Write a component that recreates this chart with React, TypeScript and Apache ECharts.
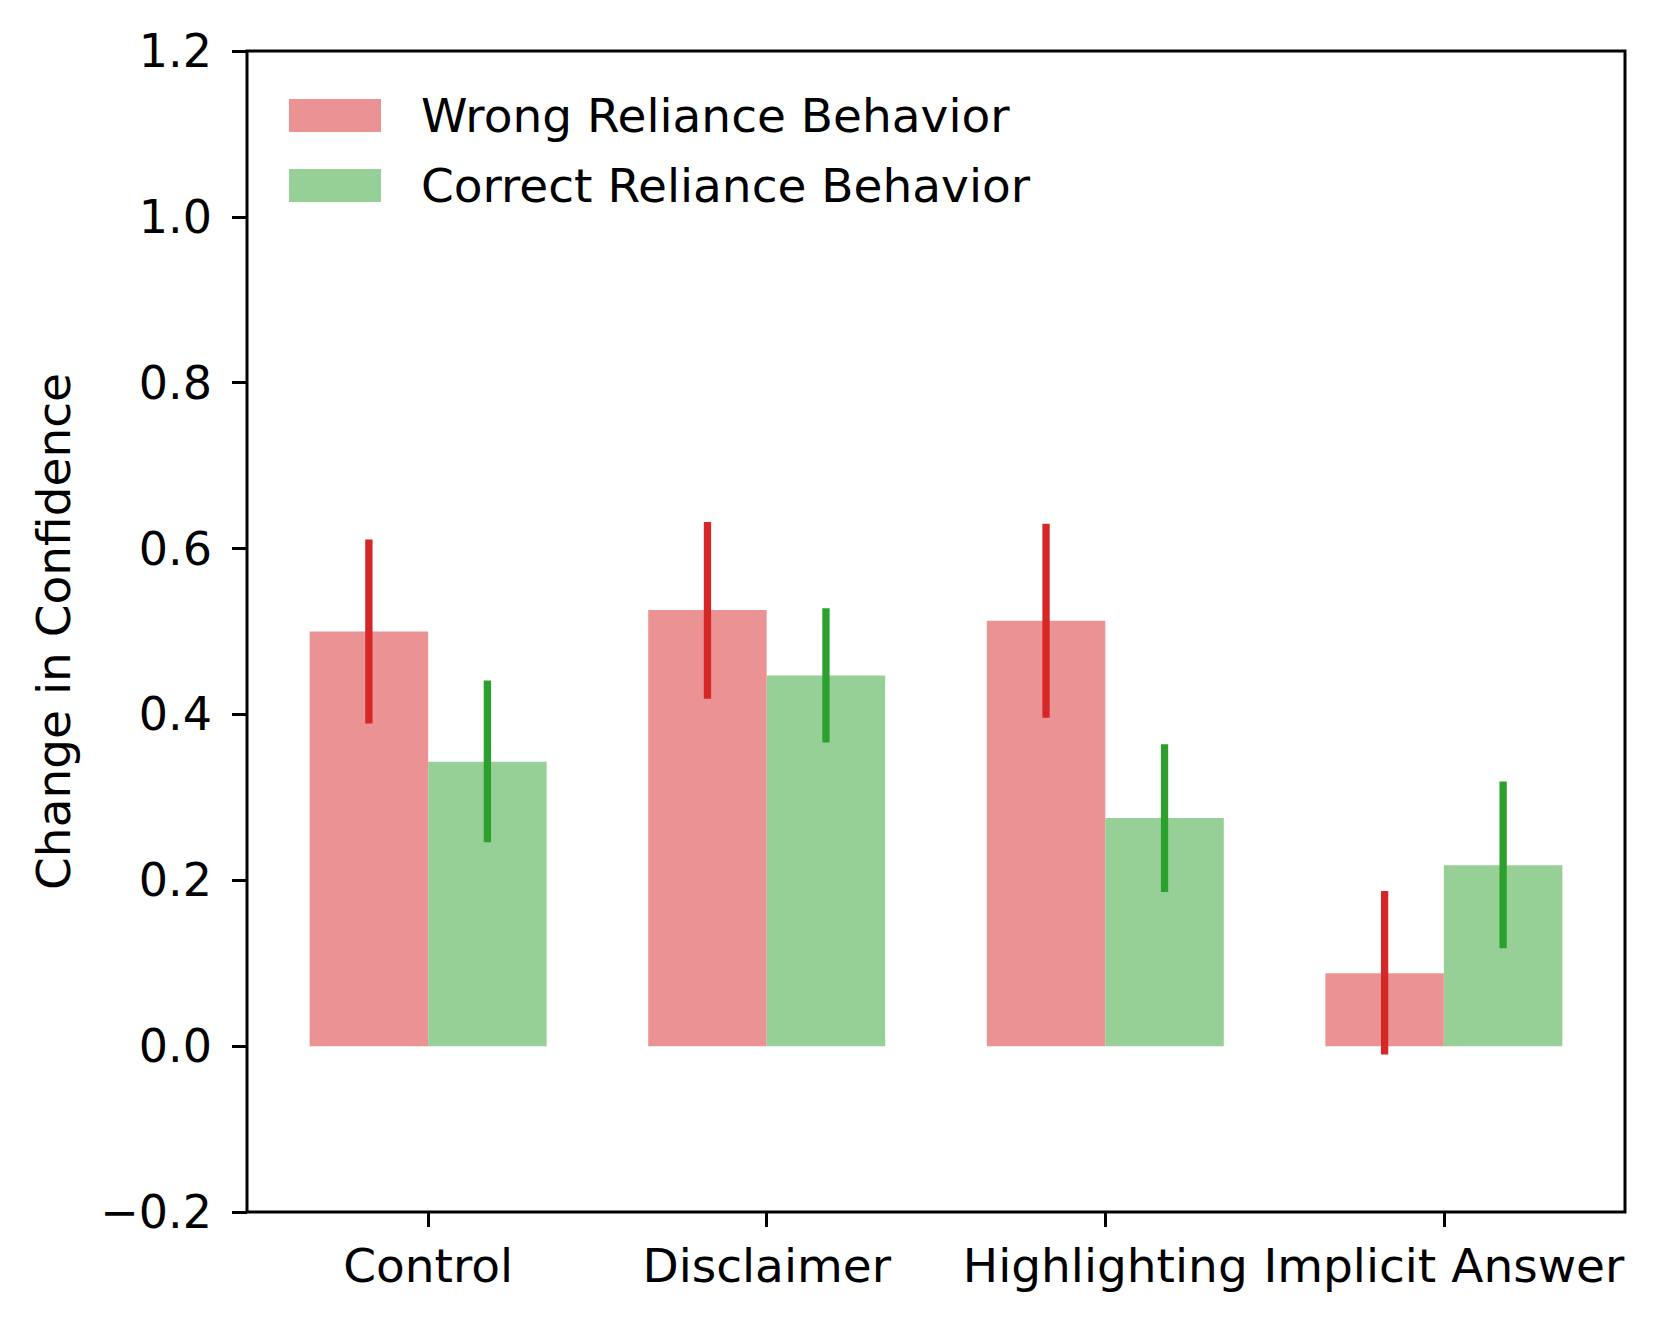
import React, { useEffect, useRef } from "react";
import * as echarts from "echarts";

const categories = ["Control", "Disclaimer", "Highlighting", "Implicit Answer"];
const wrongValues = [0.5, 0.526, 0.513, 0.088];
const wrongLow = [0.389, 0.419, 0.396, -0.01];
const wrongHigh = [0.611, 0.632, 0.63, 0.187];
const correctValues = [0.343, 0.447, 0.275, 0.218];
const correctLow = [0.246, 0.366, 0.186, 0.118];
const correctHigh = [0.441, 0.528, 0.364, 0.319];
const seriesNames = ["Wrong Reliance Behavior", "Correct Reliance Behavior"];
const categoryPositions = [0, 1, 2, 3];

const BAR_W = 0.35;
const FONT = "DejaVu Sans";
const WRONG_FILL = "#EB9394";
const CORRECT_FILL = "#96D096";
const WRONG_ERR = "#D62728";
const CORRECT_ERR = "#2CA02C";

function barSeries(name: string, values: number[], side: number, color: string) {
  return {
    type: "custom",
    name,
    itemStyle: { color },
    data: values.map((v, i) => [categoryPositions[i], v]),
    renderItem: (_params: any, api: any) => {
      const x = api.value(0);
      const y = api.value(1);
      const x0 = side < 0 ? x - BAR_W : x;
      const x1 = side < 0 ? x : x + BAR_W;
      const p0 = api.coord([x0, 0]);
      const p1 = api.coord([x1, y]);
      return {
        type: "rect",
        shape: {
          x: p0[0],
          y: Math.min(p0[1], p1[1]),
          width: p1[0] - p0[0],
          height: Math.abs(p0[1] - p1[1]),
        },
        style: { fill: color },
      };
    },
    z: 2,
  };
}

function errSeries(low: number[], high: number[], side: number, color: string) {
  return {
    type: "custom",
    data: low.map((l, i) => [categoryPositions[i] + side * BAR_W / 2, l, high[i]]),
    renderItem: (_params: any, api: any) => {
      const x = api.value(0);
      const pl = api.coord([x, api.value(1)]);
      const ph = api.coord([x, api.value(2)]);
      const w = 7.3;
      return {
        type: "rect",
        shape: { x: pl[0] - w / 2, y: ph[1], width: w, height: pl[1] - ph[1] },
        style: { fill: color },
      };
    },
    z: 3,
    silent: true,
  };
}

export default function App() {
  const ref = useRef<HTMLDivElement>(null);
  useEffect(() => {
    document.body.style.margin = "0";
    if (!ref.current) return;
    const chart = echarts.init(ref.current, null, { renderer: "svg" });
    chart.setOption({
      animation: false,
      backgroundColor: "#ffffff",
      textStyle: { fontFamily: FONT },
      grid: {
        left: 247,
        right: 35,
        top: 51,
        bottom: 114,
        show: true,
        borderColor: "#000",
        borderWidth: 3,
        backgroundColor: "transparent",
      },
      legend: {
        orient: "vertical",
        left: 284,
        top: 87,
        icon: "rect",
        itemWidth: 92,
        itemHeight: 33,
        itemGap: 23,
        data: seriesNames,
        textStyle: {
          fontFamily: FONT,
          fontSize: 47,
          color: "#000",
          padding: [0, 0, 0, 35],
        },
      },
      xAxis: {
        type: "value",
        min: -0.535,
        max: 3.535,
        splitLine: { show: false },
        axisLine: { show: false, onZero: false },
        axisTick: {
          show: true,
          customValues: categoryPositions,
          length: 15,
          lineStyle: { color: "#000", width: 3 },
        },
        axisLabel: {
          customValues: categoryPositions,
          formatter: (v: number) => categories[Math.round(v)] ?? "",
          fontFamily: FONT,
          fontSize: 47,
          color: "#000",
          margin: 30,
        },
      },
      yAxis: {
        type: "value",
        min: -0.2,
        max: 1.2,
        interval: 0.2,
        splitLine: { show: false },
        axisLine: { show: false, onZero: false },
        axisTick: { show: true, length: 15, lineStyle: { color: "#000", width: 3 } },
        axisLabel: {
          formatter: (v: number) => v.toFixed(1).replace("-", "\u2212"),
          fontFamily: FONT,
          fontSize: 46,
          color: "#000",
          margin: 35,
        },
        name: "Change in Confidence",
        nameLocation: "middle",
        nameGap: 170,
        nameTextStyle: { fontFamily: FONT, fontSize: 47, color: "#000" },
      },
      series: [
        barSeries(seriesNames[0], wrongValues, -1, WRONG_FILL),
        barSeries(seriesNames[1], correctValues, 1, CORRECT_FILL),
        errSeries(wrongLow, wrongHigh, -1, WRONG_ERR),
        errSeries(correctLow, correctHigh, 1, CORRECT_ERR),
      ],
    });
    return () => chart.dispose();
  }, []);
  return <div ref={ref} style={{ width: 1660, height: 1326 }} />;
}
